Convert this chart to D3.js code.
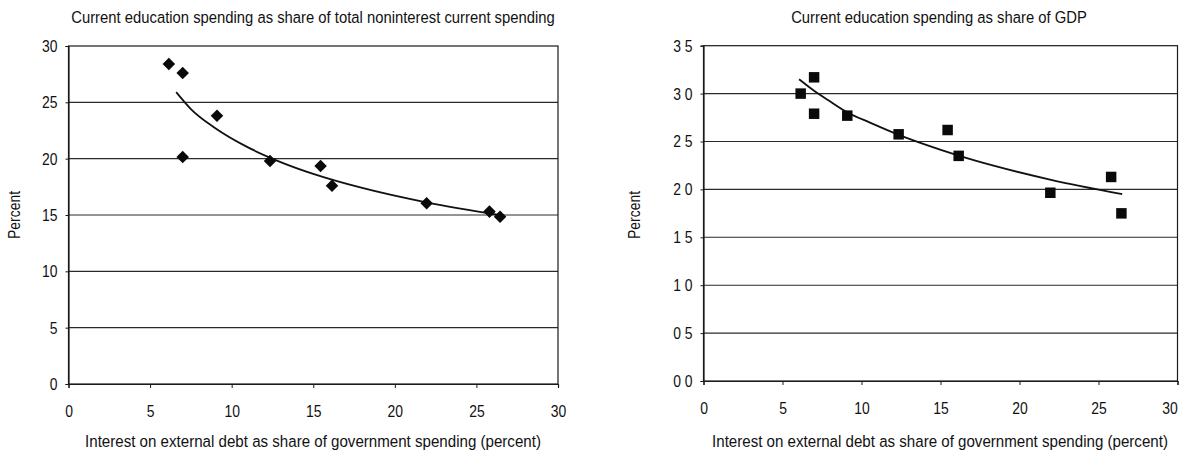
<!DOCTYPE html>
<html>
<head>
<meta charset="utf-8">
<script src="https://cdn.jsdelivr.net/npm/d3@7"></script>
<style>
  html, body { margin: 0; padding: 0; background: #fff; }
  svg text { font-family: "Liberation Sans", Arial, sans-serif; fill: #111; }
</style>
</head>
<body>
<script>
// Interest on external debt as share of government spending (percent), per country
const interestShare = [6.15, 7.0, 7.0, 9.1, 12.35, 15.45, 16.15, 21.95, 25.8, 26.45];
// Current education spending as share of total noninterest current spending (percent)
const eduShareNonInterest = [28.4, 27.6, 20.15, 23.8, 19.8, 19.35, 17.6, 16.05, 15.3, 14.85];
// Current education spending as share of GDP (percent)
const eduShareGDP = [3.0, 3.17, 2.79, 2.77, 2.575, 2.62, 2.35, 1.965, 2.13, 1.75];

// Fitted trend curves
const trendNonInterestX = [6.6, 7.5, 9, 11, 13, 15, 18, 22, 26.4];
const trendNonInterestY = [25.9, 24.4, 22.7, 21.0, 19.7, 18.65, 17.4, 16.1, 15.0];
const trendGDPX = [6.05, 7, 8, 9.15, 10.5, 12.4, 14, 16.2, 18.3, 22, 26.5];
const trendGDPY = [3.15, 3.03, 2.92, 2.80, 2.70, 2.567, 2.47, 2.35, 2.25, 2.10, 1.95];

// Axis ticks
const xTicks = [0, 5, 10, 15, 20, 25, 30];
const yTicksNonInterest = [0, 5, 10, 15, 20, 25, 30];
const yTicksGDP = [0, 0.5, 1.0, 1.5, 2.0, 2.5, 3.0, 3.5];
const yTickLabelsGDP = ["0 0", "0 5", "1 0", "1 5", "2 0", "2 5", "3 0", "3 5"];

const titleNonInterest = "Current education spending as share of total noninterest current spending";
const titleGDP = "Current education spending as share of GDP";
const xTitle = "Interest on external debt as share of government spending (percent)";
const yTitle = "Percent";

const svg = d3.select("body").append("svg")
  .attr("width", 1180).attr("height", 455);

const NARROW = 0.82;

// condensed lettering: scale text horizontally, keeping its anchor point in place
function squeeze(sel, factor) {
  sel.each(function () {
    const t = d3.select(this);
    const x0 = +(t.attr("x") || 0);
    const prev = t.attr("transform") || "";
    t.attr("x", x0 / factor).attr("transform", `${prev} scale(${factor},1)`.trim());
  });
}

// a free-standing label of given rendered width, centred on (cx, cy)
function label(g, text, cx, cy, width, rotate) {
  const t = g.append("text")
    .attr("text-anchor", "middle").style("font-size", "17px")
    .text(text);
  const f = width ? width / t.node().getComputedTextLength() : NARROW;
  t.attr("transform", `translate(${cx},${cy})${rotate ? " rotate(-90)" : ""} scale(${f},1)`);
  return t;
}

function drawPanel(cfg) {
  const g = svg.append("g");
  const x = d3.scaleLinear().domain([0, 30]).range([cfg.left, cfg.right]);
  const y = d3.scaleLinear().domain(cfg.yDomain).range([cfg.bottom, cfg.top]);

  // horizontal gridlines
  g.append("g").selectAll("line")
    .data(cfg.yTicks.filter(d => d > cfg.yDomain[0] && d < cfg.yDomain[1]))
    .join("line")
    .attr("x1", cfg.left).attr("x2", cfg.right)
    .attr("y1", d => y(d)).attr("y2", d => y(d))
    .attr("stroke", "#2a2a2a").attr("stroke-width", 1.1);

  // plot frame
  g.append("rect")
    .attr("x", cfg.left).attr("y", cfg.top)
    .attr("width", cfg.right - cfg.left).attr("height", cfg.bottom - cfg.top)
    .attr("fill", "none").attr("stroke", "#1a1a1a").attr("stroke-width", 1.2);

  // x axis
  const xAxis = g.append("g")
    .attr("transform", `translate(0,${cfg.bottom})`)
    .call(d3.axisBottom(x).tickValues(xTicks).tickSize(4).tickPadding(17).tickFormat(d3.format("d")));
  xAxis.select(".domain").attr("stroke", "#1a1a1a").attr("stroke-width", 1.2);
  xAxis.selectAll(".tick line").attr("stroke", "#1a1a1a");
  const xLabels = xAxis.selectAll(".tick text").style("font-size", "17px");
  if (cfg.lastXLabelShift) {
    xLabels.filter(d => d === 30).attr("x", cfg.lastXLabelShift);
  }
  squeeze(xLabels, NARROW);

  // y axis
  const yAxis = g.append("g")
    .attr("transform", `translate(${cfg.left},0)`)
    .call(d3.axisLeft(y).tickValues(cfg.yTicks).tickSize(3).tickPadding(8).tickFormat(cfg.yFormat));
  yAxis.select(".domain").attr("stroke", "#1a1a1a").attr("stroke-width", 1.2);
  yAxis.selectAll(".tick line").attr("stroke", "#1a1a1a");
  squeeze(yAxis.selectAll(".tick text").style("font-size", "17px"), NARROW);

  // titles
  label(g, cfg.title, cfg.titleX, 23, cfg.titleWidth, false);
  label(g, xTitle, cfg.xTitleX, 447, 456, false);
  label(g, yTitle, cfg.yTitleX, 215, null, true).attr("dy", "0.35em");

  // trend curve
  const trend = d3.zip(cfg.trendX, cfg.trendY);
  g.append("path")
    .datum(trend)
    .attr("fill", "none").attr("stroke", "#111").attr("stroke-width", 1.8)
    .attr("d", d3.line().x(d => x(d[0])).y(d => y(d[1])).curve(d3.curveMonotoneX));

  // markers
  const pts = d3.zip(interestShare, cfg.values);
  g.append("g").selectAll("path")
    .data(pts)
    .join("path")
    .attr("transform", d => `translate(${x(d[0])},${y(d[1])})`)
    .attr("d", d3.symbol().type(cfg.symbol).size(cfg.symbolSize))
    .attr("fill", "#0a0a0a");
}

drawPanel({
  left: 68.5, right: 558, top: 46, bottom: 384,
  yDomain: [0, 30], yTicks: yTicksNonInterest, yFormat: d3.format("d"),
  title: titleNonInterest, titleX: 313, titleWidth: 484, xTitleX: 313, yTitleX: 14,
  trendX: trendNonInterestX, trendY: trendNonInterestY,
  values: eduShareNonInterest, symbol: d3.symbolDiamond2, symbolSize: 100
});

drawPanel({
  left: 703.5, right: 1177.5, top: 45.7, bottom: 381,
  yDomain: [0, 3.5], yTicks: yTicksGDP, yFormat: (d, i) => yTickLabelsGDP[i],
  title: titleGDP, titleX: 939, titleWidth: 296, xTitleX: 940, yTitleX: 634,
  trendX: trendGDPX, trendY: trendGDPY,
  values: eduShareGDP, symbol: d3.symbolSquare, symbolSize: 110,
  lastXLabelShift: -8
});
</script>
</body>
</html>
